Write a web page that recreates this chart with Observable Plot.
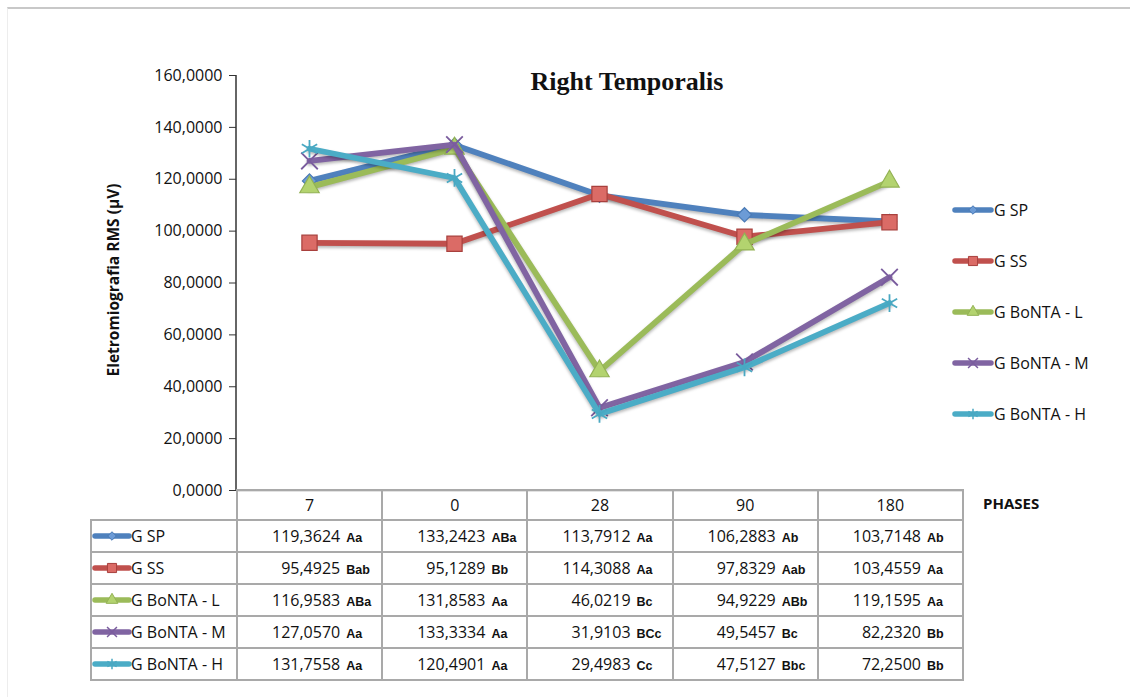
<!DOCTYPE html>
<html>
<head>
<meta charset="utf-8">
<script src="https://cdn.jsdelivr.net/npm/d3@7"></script>
<script src="https://cdn.jsdelivr.net/npm/@observablehq/plot@0.6"></script>
<style>
  html, body { margin: 0; padding: 0; background: #fff; }
  #page { position: relative; width: 1130px; height: 697px; overflow: hidden;
          font-family: "Open Sans", sans-serif; color: #111; background: #fff; }
  #border { position: absolute; left: 7px; top: 7px; right: -4px; bottom: -4px;
            border-top: 2px solid #c8c8c8; border-left: 1px solid #ededed; }
  #page svg.plot { position: absolute; left: 0; top: 0; }
  #title { position: absolute; left: 627px; top: 69px; transform: translateX(-50%);
           font: bold 26px/26px "Liberation Serif", "Times New Roman", serif; white-space: nowrap; }
  #ylabel { position: absolute; left: 113px; top: 280px; white-space: nowrap;
            transform: translate(-50%, -50%) rotate(-90deg);
            font: bold 15.5px "Open Sans", sans-serif; }
  #phases { position: absolute; left: 983px; top: 494px; font: bold 15px/18px "Open Sans", sans-serif; }
  .legend-item { position: absolute; left: 953px; height: 20px; display: flex; align-items: center;
                 font-size: 16px; white-space: nowrap; }
  .legend-item svg { margin-right: 1px; }
  table.data { position: absolute; border-collapse: collapse; table-layout: fixed; font-size: 16px; }
  table.data th, table.data td { border: 2px solid #a9a9a9; padding: 0; white-space: nowrap; }
  table.data th { font-weight: normal; text-align: center; height: 28px; }
  table.data th.corner { border: none; }
  table.data td { height: 30px; }
  table.data td.name { text-align: left; }
  table.data td.name div { display: flex; align-items: center; padding-left: 1px; }
  table.data td.val { text-align: right; padding-right: 5px; }
  table.data span.code { display: inline-block; width: 30px; margin-left: 6px; text-align: left;
                         font: bold 12.5px "Liberation Sans", Arial, sans-serif; }
</style>
</head>
<body>
<div id="page"><div id="border"></div></div>
<script>
// Phases (columns) and groups (series)
const phases = ["7", "0", "28", "90", "180"];
const groups = ["G SP", "G SS", "G BoNTA - L", "G BoNTA - M", "G BoNTA - H"];

// Mean RMS values per group, in phase order
const spValues = [119.3624, 133.2423, 113.7912, 106.2883, 103.7148];
const ssValues = [95.4925, 95.1289, 114.3088, 97.8329, 103.4559];
const lValues  = [116.9583, 131.8583, 46.0219, 94.9229, 119.1595];
const mValues  = [127.0570, 133.3334, 31.9103, 49.5457, 82.2320];
const hValues  = [131.7558, 120.4901, 29.4983, 47.5127, 72.2500];

// Significance letters shown next to each value
const spLetters = ["Aa", "ABa", "Aa", "Ab", "Ab"];
const ssLetters = ["Bab", "Bb", "Aa", "Aab", "Aa"];
const lLetters  = ["ABa", "Aa", "Bc", "ABb", "Aa"];
const mLetters  = ["Aa", "Aa", "BCc", "Bc", "Bb"];
const hLetters  = ["Aa", "Aa", "Cc", "Bbc", "Bb"];

// Y axis ticks
const yTicks = [0, 20, 40, 60, 80, 100, 120, 140, 160];

// Styling per series
const lineColors = ["#4F81BD", "#C0504D", "#9BBB59", "#8064A2", "#4BACC6"];
const markFills  = ["#6C9BD6", "#DB6B66", "#B3D36F", "none", "none"];
const markStrokes = ["#4A7AB5", "#A8403D", "#93B254", "#7A5C9E", "#49A8C2"];
const symbols = ["diamond2", "square", "triangle", "times", "asterisk"];
const markR = [6.4, 8.6, 7.2, 7.6, 8.4];

const seriesValues = [spValues, ssValues, lValues, mValues, hValues];
const seriesLetters = [spLetters, ssLetters, lLetters, mLetters, hLetters];

const series = groups.map((name, k) => ({
  name,
  values: seriesValues[k],
  letters: seriesLetters[k],
  color: lineColors[k],
  fill: markFills[k],
  stroke: markStrokes[k],
  symbol: symbols[k],
  r: markR[k]
}));

const rows = series.flatMap(s => phases.map((p, i) => ({group: s.name, phase: p, value: s.values[i]})));

const locale = d3.formatLocale({decimal: ",", thousands: ".", grouping: [3], currency: ["", ""]});
const fmt = locale.format(".4f");

const page = document.getElementById("page");

const marks = [];
series.forEach(s => {
  const data = rows.filter(d => d.group === s.name);
  marks.push(Plot.lineY(data, {x: "phase", y: "value", stroke: s.color, strokeWidth: 5.8,
                               strokeLinejoin: "round", strokeLinecap: "round"}));
  const stroked = s.fill === "none";
  marks.push(Plot.dot(data, {x: "phase", y: "value", symbol: s.symbol, r: s.r,
                             fill: s.fill, stroke: s.stroke, strokeWidth: stroked ? 1.8 : 1.2}));
});

const chart = Plot.plot({
  width: 1130,
  height: 500,
  marginLeft: 236,
  marginRight: 168,
  marginTop: 75,
  marginBottom: 10,
  style: {fontFamily: "Open Sans, sans-serif", fontSize: "16px", color: "#111", background: "transparent", overflow: "visible"},
  x: {type: "point", domain: phases, padding: 0.5, axis: null},
  y: {domain: [0, 160]},
  marks: [
    Plot.ruleY([0], {stroke: "#8a8a8a", strokeWidth: 1.5}),
    Plot.axisY(yTicks, {tickFormat: fmt, tickSize: 7, tickPadding: 7, label: null, fontSize: 16, stroke: "#333"}),
    ...marks
  ]
});
chart.classList.add("plot");

// Soft shadow under the series lines
d3.select(chart).selectAll('g[aria-label="line"]').style("filter", "drop-shadow(0px 2px 1.5px rgba(0,0,0,0.28))");

// Vertical axis line along the left edge of the frame
const xs = chart.scale("x"), ys = chart.scale("y");
d3.select(chart).append("line")
  .attr("x1", xs.range[0]).attr("x2", xs.range[0])
  .attr("y1", ys.range[0]).attr("y2", ys.range[1])
  .attr("stroke", "#333").attr("stroke-width", 1.5);

page.appendChild(chart);

// Title and axis labels
const title = document.createElement("div");
title.id = "title"; title.textContent = "Right Temporalis";
page.appendChild(title);

const ylabel = document.createElement("div");
ylabel.id = "ylabel"; ylabel.textContent = "Eletromiografia RMS (µV)";
page.appendChild(ylabel);

const phasesLabel = document.createElement("div");
phasesLabel.id = "phases"; phasesLabel.textContent = "PHASES";
page.appendChild(phasesLabel);

// Small swatch: series line with its marker in the middle
const symbolTypes = {diamond2: d3.symbolDiamond2, square: d3.symbolSquare, triangle: d3.symbolTriangle,
                     times: d3.symbolTimes, asterisk: d3.symbolAsterisk};
function swatch(s, w, scale) {
  const h = 18;
  const svg = d3.create("svg").attr("width", w).attr("height", h).style("overflow", "visible");
  svg.append("line").attr("x1", 2).attr("x2", w - 2).attr("y1", h / 2).attr("y2", h / 2)
    .attr("stroke", s.color).attr("stroke-width", 5.5).attr("stroke-linecap", "round");
  const size = Math.PI * (s.r * scale) ** 2;
  svg.append("path")
    .attr("transform", `translate(${w / 2},${h / 2})`)
    .attr("d", d3.symbol(symbolTypes[s.symbol], size)())
    .attr("fill", s.fill).attr("stroke", s.stroke).attr("stroke-width", s.fill === "none" ? 1.5 : 1);
  return svg.node();
}

// Legend on the right
series.forEach((s, k) => {
  const item = document.createElement("div");
  item.className = "legend-item";
  item.style.top = (200 + k * 51) + "px";
  item.appendChild(swatch(s, 40, 0.6));
  item.appendChild(document.createTextNode(s.name));
  page.appendChild(item);
});

// Data table under the plot, columns aligned with the x scale
const colWidth = (xs.range[1] - xs.range[0]) / phases.length;
const tableLeft = 90;
const table = document.createElement("table");
table.className = "data";
table.style.left = tableLeft + "px";
table.style.top = (ys.range[0] - 1) + "px";
const colgroup = document.createElement("colgroup");
[xs.range[0] - tableLeft, ...phases.map(() => colWidth)].forEach(w => {
  const col = document.createElement("col");
  col.style.width = w + "px";
  colgroup.appendChild(col);
});
table.appendChild(colgroup);

const head = document.createElement("tr");
const corner = document.createElement("th");
corner.className = "corner";
head.appendChild(corner);
phases.forEach(p => {
  const th = document.createElement("th");
  th.textContent = p;
  head.appendChild(th);
});
table.appendChild(head);

series.forEach(s => {
  const tr = document.createElement("tr");
  const name = document.createElement("td");
  name.className = "name";
  const wrap = document.createElement("div");
  wrap.appendChild(swatch(s, 38, 0.6));
  wrap.appendChild(document.createTextNode(s.name));
  name.appendChild(wrap);
  tr.appendChild(name);
  s.values.forEach((v, i) => {
    const td = document.createElement("td");
    td.className = "val";
    td.appendChild(document.createTextNode(fmt(v)));
    const code = document.createElement("span");
    code.className = "code";
    code.textContent = s.letters[i];
    td.appendChild(code);
    tr.appendChild(td);
  });
  table.appendChild(tr);
});
page.appendChild(table);
</script>
</body>
</html>
